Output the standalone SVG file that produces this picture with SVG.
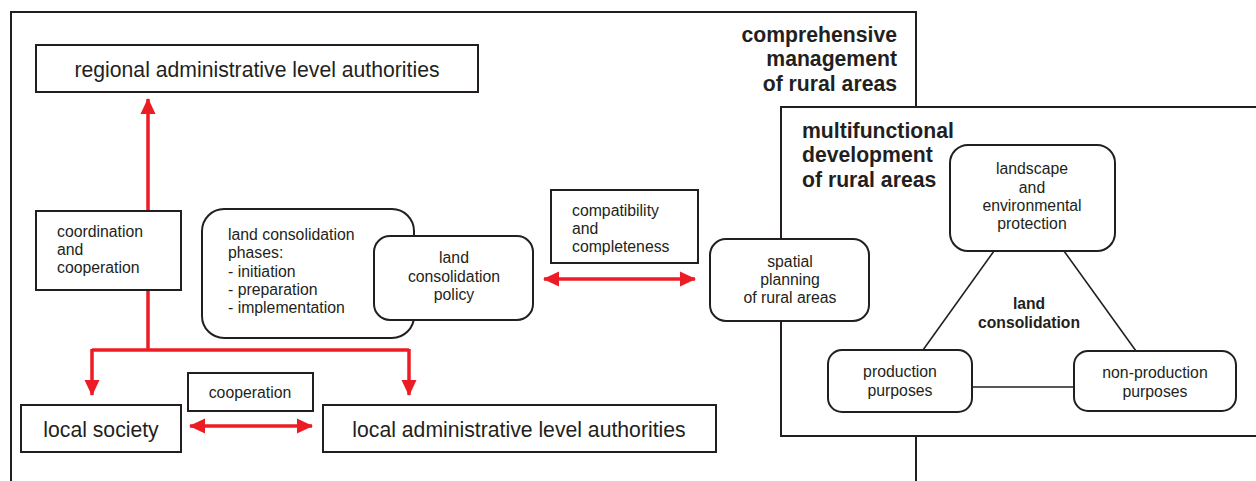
<svg xmlns="http://www.w3.org/2000/svg" width="1256" height="481" viewBox="0 0 1256 481">
<style>
text{font-family:"Liberation Sans",Arial,sans-serif;fill:#231f20}
.s{font-size:15.8px}
.l{font-size:21.2px}
.b{font-size:21.2px;font-weight:bold}
.bs{font-size:15.7px;font-weight:bold}
.box{fill:#fff;stroke:#231f20;stroke-width:2}
.frame{fill:none;stroke:#231f20;stroke-width:2}
.red{fill:none;stroke:#ed1c24;stroke-width:3.5}
.blk{fill:none;stroke:#231f20;stroke-width:1.6}
</style>
<defs>
<marker id="ah" markerUnits="userSpaceOnUse" markerWidth="16" markerHeight="16" viewBox="0 0 16 16" refX="15" refY="8" orient="auto-start-reverse">
<path d="M0,0.5 L16,8 L0,15.5 Z" fill="#ed1c24"/>
</marker>
</defs>
<rect width="1256" height="481" fill="#fff"/>
<g id="comprehensive">
<path class="frame" d="M11,481 V12 H916 V481"/>
<text class="b" text-anchor="end"><tspan x="897" y="42">comprehensive</tspan><tspan x="897" y="66">management</tspan><tspan x="897" y="91">of rural areas</tspan></text>
</g>
<g id="multifunctional">
<rect class="box" x="781" y="107" width="480" height="329"/>
<text class="b"><tspan x="802" y="138">multifunctional</tspan><tspan x="802" y="162">development</tspan><tspan x="802" y="187">of rural areas</tspan></text>
</g>
<g id="connectors">
<line class="red" x1="148" y1="211" x2="148" y2="99" marker-end="url(#ah)"/>
<path class="red" d="M148,290 V350"/>
<path class="red" d="M92,350 H409"/>
<line class="red" x1="92" y1="349" x2="92" y2="395" marker-end="url(#ah)"/>
<line class="red" x1="409" y1="349" x2="409" y2="395" marker-end="url(#ah)"/>
<line class="red" x1="190" y1="426" x2="312" y2="426" marker-start="url(#ah)" marker-end="url(#ah)"/>
<line class="red" x1="544" y1="279" x2="695" y2="279" marker-start="url(#ah)" marker-end="url(#ah)"/>
<line class="blk" x1="994" y1="251" x2="923" y2="350"/>
<line class="blk" x1="1064" y1="251" x2="1136" y2="351"/>
<line class="blk" x1="972" y1="387" x2="1074" y2="387"/>
</g>
<g id="regional">
<rect class="box" x="36" y="45" width="442" height="47"/>
<text class="l" x="257" y="77" text-anchor="middle">regional administrative level authorities</text>
</g>
<g id="coordination">
<rect class="box" x="36" y="211" width="145" height="79"/>
<text class="s"><tspan x="57" y="237">coordination</tspan><tspan x="57" y="255">and</tspan><tspan x="57" y="273">cooperation</tspan></text>
</g>
<g id="phases">
<rect class="box" x="202" y="209" width="212" height="129" rx="22"/>
<text class="s"><tspan x="228" y="240">land consolidation</tspan><tspan x="228" y="258">phases:</tspan><tspan x="228" y="277">- initiation</tspan><tspan x="228" y="295">- preparation</tspan><tspan x="228" y="313">- implementation</tspan></text>
</g>
<g id="policy">
<rect class="box" x="374" y="236" width="159" height="84" rx="16"/>
<text class="s" text-anchor="middle"><tspan x="454" y="263">land</tspan><tspan x="454" y="282">consolidation</tspan><tspan x="454" y="300">policy</tspan></text>
</g>
<g id="compatibility">
<rect class="box" x="551" y="190" width="147" height="73"/>
<text class="s"><tspan x="572" y="216">compatibility</tspan><tspan x="572" y="234">and</tspan><tspan x="572" y="252">completeness</tspan></text>
</g>
<g id="spatial">
<rect class="box" x="710" y="239" width="159" height="82" rx="16"/>
<text class="s" text-anchor="middle"><tspan x="790" y="267">spatial</tspan><tspan x="790" y="285">planning</tspan><tspan x="790" y="303">of rural areas</tspan></text>
</g>
<g id="local-society">
<rect class="box" x="21" y="405" width="160" height="47"/>
<text class="l" x="101" y="437" text-anchor="middle">local society</text>
</g>
<g id="cooperation">
<rect class="box" x="188" y="373" width="125" height="38"/>
<text class="s" x="250" y="398" text-anchor="middle">cooperation</text>
</g>
<g id="local-admin">
<rect class="box" x="323" y="405" width="393" height="47"/>
<text class="l" x="519" y="437" text-anchor="middle">local administrative level authorities</text>
</g>
<g id="landscape">
<rect class="box" x="950" y="145" width="165" height="106" rx="18"/>
<text class="s" text-anchor="middle"><tspan x="1032" y="174">landscape</tspan><tspan x="1032" y="193">and</tspan><tspan x="1032" y="211">environmental</tspan><tspan x="1032" y="229">protection</tspan></text>
</g>
<g id="land-consolidation">
<text class="bs" text-anchor="middle"><tspan x="1029" y="309">land</tspan><tspan x="1029" y="328">consolidation</tspan></text>
</g>
<g id="production">
<rect class="box" x="828" y="350" width="144" height="62" rx="14"/>
<text class="s" text-anchor="middle"><tspan x="900" y="377">production</tspan><tspan x="900" y="396">purposes</tspan></text>
</g>
<g id="non-production">
<rect class="box" x="1074" y="351" width="162" height="60" rx="14"/>
<text class="s" text-anchor="middle"><tspan x="1155" y="378">non-production</tspan><tspan x="1155" y="397">purposes</tspan></text>
</g>
</svg>
